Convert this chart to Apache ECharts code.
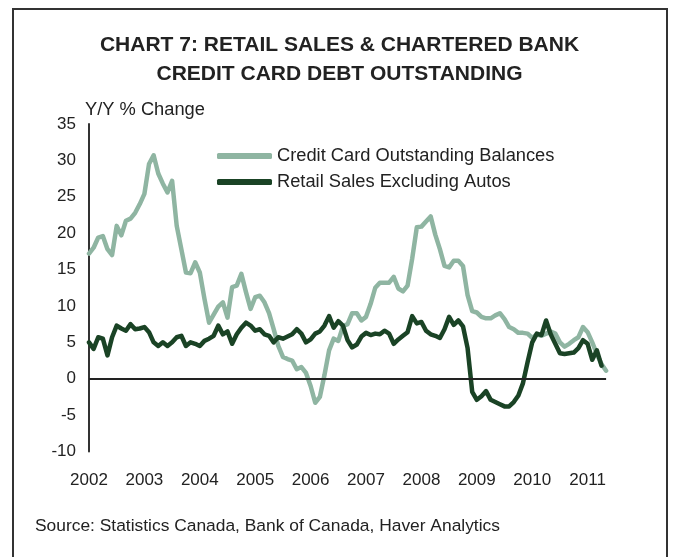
<!DOCTYPE html>
<html>
<head>
<meta charset="utf-8">
<script src="https://cdn.jsdelivr.net/npm/echarts@6/dist/echarts.min.js"></script>
<style>
html,body{margin:0;padding:0;background:#fff;}
#chart{width:679px;height:557px;}
</style>
</head>
<body>
<div id="chart"></div>
<script>
// Monthly data, Jan 2002 .. May 2011
const startYear = 2002;
const yearLabels = ['2002','2003','2004','2005','2006','2007','2008','2009','2010','2011'];
const yTicks = [-10, -5, 0, 5, 10, 15, 20, 25, 30, 35];

const creditCard = [
  17.2, 18.0, 19.4, 19.6, 17.8, 17.0, 21.0, 19.7, 21.7, 22.0, 22.8, 24.0,
  25.4, 29.5, 30.7, 28.2, 26.8, 25.6, 27.2, 21.0, 17.8, 14.6, 14.5, 16.0,
  14.6, 11.0, 7.7, 8.8, 9.9, 10.5, 8.4, 12.6, 12.8, 14.4, 11.9, 9.6,
  11.2, 11.4, 10.5, 9.0, 6.8, 4.5, 3.0, 2.7, 2.5, 1.3, 1.6, 0.8,
  -1.0, -3.3, -2.5, 0.5, 3.9, 5.5, 5.2, 7.2, 7.5, 9.0, 9.0, 8.0,
  8.5, 10.3, 12.5, 13.2, 13.2, 13.2, 14.0, 12.4, 12.0, 12.8, 16.5, 20.8,
  20.9, 21.6, 22.3, 19.8, 17.8, 15.5, 15.3, 16.2, 16.2, 15.5, 11.5, 9.3,
  9.1, 8.5, 8.3, 8.3, 8.7, 9.0, 8.2, 7.1, 6.8, 6.3, 6.3, 6.2,
  5.6, 6.1, 5.9, 6.2, 6.5, 6.2, 5.0, 4.4, 4.8, 5.3, 5.7, 7.1,
  6.4, 5.0, 3.4, 2.0, 1.1
];

const retailSales = [
  5.0, 4.1, 5.7, 5.5, 3.2, 5.7, 7.3, 6.9, 6.6, 7.5, 6.8, 6.9,
  7.1, 6.4, 5.0, 4.5, 5.0, 4.5, 5.0, 5.7, 5.9, 4.5, 5.0, 4.8,
  4.5, 5.2, 5.5, 5.9, 7.3, 6.1, 6.5, 4.8, 6.1, 7.0, 7.7, 7.3,
  6.6, 6.8, 6.1, 5.9, 5.0, 5.7, 5.5, 5.8, 6.1, 6.8, 6.2, 5.0,
  5.4, 6.2, 6.5, 7.3, 8.6, 7.0, 7.9, 7.3, 5.3, 4.3, 4.7, 5.8,
  6.3, 6.0, 6.2, 6.1, 6.6, 6.2, 4.8, 5.4, 5.9, 6.4, 8.6, 7.6,
  7.8, 6.6, 6.1, 5.9, 5.6, 6.8, 8.5, 7.4, 8.0, 7.2, 4.2, -1.8,
  -2.9, -2.4, -1.7, -2.9, -3.2, -3.5, -3.8, -3.8, -3.2, -2.3, -0.6, 2.3,
  5.0, 6.2, 6.0, 8.0, 6.1, 4.8, 3.5, 3.4, 3.5, 3.6, 4.2, 5.3,
  4.8, 2.6, 3.9, 1.8
];

const months = [];
for (let i = 0; i < creditCard.length; i++) {
  const y = startYear + Math.floor(i / 12);
  const m = (i % 12) + 1;
  months.push(y + '-' + (m < 10 ? '0' + m : m));
}

const FONT = '"Liberation Sans", Arial, sans-serif';
const chart = echarts.init(document.getElementById('chart'));
chart.setOption({
  backgroundColor: '#ffffff',
  animation: false,
  textStyle: { fontFamily: FONT },
  graphic: [
    {
      type: 'rect',
      shape: { x: 13, y: 9, width: 654, height: 580 },
      style: { fill: 'none', stroke: '#333333', lineWidth: 2 },
      silent: true
    },
    {
      type: 'text',
      left: 35,
      top: 518,
      style: {
        text: 'Source: Statistics Canada, Bank of Canada, Haver Analytics',
        font: '17.4px ' + FONT,
        fill: '#222222'
      }
    }
  ],
  title: {
    text: 'CHART 7: RETAIL SALES & CHARTERED BANK\nCREDIT CARD DEBT OUTSTANDING',
    left: 'center',
    top: 31,
    padding: 0,
    textStyle: {
      fontFamily: FONT,
      fontSize: 21,
      fontWeight: 'bold',
      color: '#222222',
      lineHeight: 29
    }
  },
  legend: {
    left: 217,
    top: 146,
    padding: 0,
    orient: 'vertical',
    itemWidth: 55,
    itemHeight: 6,
    itemGap: 6,
    icon: 'roundRect',
    textStyle: { fontFamily: FONT, fontSize: 18.3, color: '#222222', lineHeight: 20 },
    data: ['Credit Card Outstanding Balances', 'Retail Sales Excluding Autos']
  },
  grid: { left: 89, top: 124, width: 517.1, height: 327.5 },
  xAxis: {
    type: 'category',
    data: months,
    boundaryGap: false,
    axisLine: { show: false },
    axisTick: { show: false },
    splitLine: { show: false },
    axisLabel: {
      margin: 20,
      fontSize: 17,
      color: '#222222',
      fontFamily: FONT,
      interval: function (idx) { return idx % 12 === 0; },
      formatter: function (v) { return v.slice(0, 4); }
    }
  },
  yAxis: {
    type: 'value',
    min: yTicks[0],
    max: yTicks[yTicks.length - 1],
    interval: 5,
    name: 'Y/Y % Change',
    nameLocation: 'end',
    nameGap: 5,
    nameTextStyle: { fontFamily: FONT, fontSize: 18.3, color: '#222222', align: 'left', padding: [0, 0, 0, -4] },
    axisLine: { show: true, lineStyle: { color: '#333333', width: 2 } },
    axisTick: { show: false },
    splitLine: { show: false },
    axisLabel: { margin: 13, fontSize: 17, color: '#222222', fontFamily: FONT }
  },
  series: [
    {
      name: 'Credit Card Outstanding Balances',
      type: 'line',
      data: creditCard,
      showSymbol: false,
      symbol: 'none',
      color: '#8fb5a2',
      lineStyle: { width: 4.5, color: '#8fb5a2', cap: 'round', join: 'round' },
      z: 2,
      markLine: {
        silent: true,
        symbol: 'none',
        label: { show: false },
        lineStyle: { color: '#222222', width: 2, type: 'solid' },
        data: [{ yAxis: 0 }]
      }
    },
    {
      name: 'Retail Sales Excluding Autos',
      type: 'line',
      data: retailSales,
      showSymbol: false,
      symbol: 'none',
      color: '#1a4325',
      lineStyle: { width: 4.5, color: '#1a4325', cap: 'round', join: 'round' },
      z: 3
    }
  ]
});
</script>
</body>
</html>
